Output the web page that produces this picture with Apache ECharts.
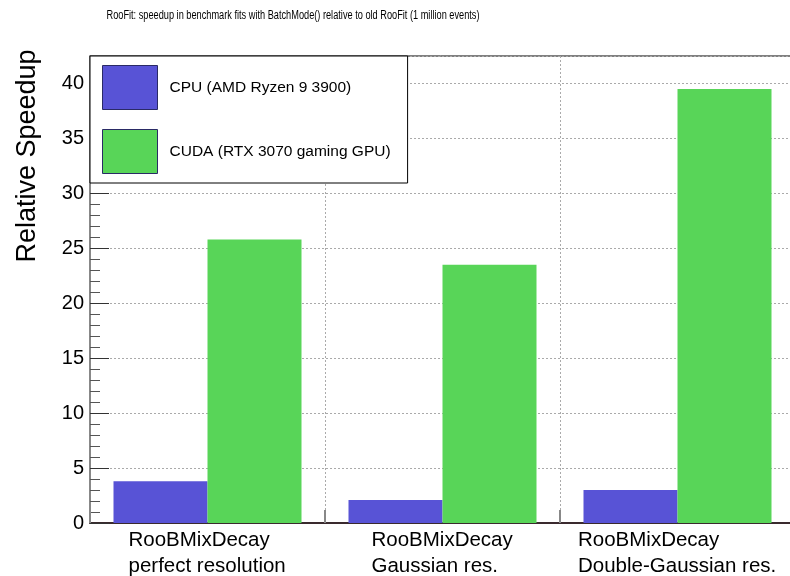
<!DOCTYPE html>
<html>
<head>
<meta charset="utf-8">
<script src="https://cdn.jsdelivr.net/npm/echarts@6/dist/echarts.min.js"></script>
<style>
  html, body { margin: 0; padding: 0; background: #fff; }
  #chart { width: 790px; height: 576px; }
</style>
</head>
<body>
<div id="chart"></div>
<script>
// data
const categories = [
  'RooBMixDecay\nperfect resolution',
  'RooBMixDecay\nGaussian res.',
  'RooBMixDecay\nDouble-Gaussian res.'
];
const cpuSpeedup = [3.8, 2.1, 3.0];
const cudaSpeedup = [25.8, 23.5, 39.5];
const seriesNames = ['CPU (AMD Ryzen 9 3900)', 'CUDA (RTX 3070 gaming GPU)'];
const titleText = 'RooFit: speedup in benchmark fits with BatchMode() relative to old RooFit (1 million events)';
const yTitle = 'Relative Speedup';

const FONT = '"Liberation Sans", Arial, Helvetica, sans-serif';
const LABEL_SIZE = 20.5;

// width of the longest line of each label, so lines are left aligned inside a centred block
const ctx = document.createElement('canvas').getContext('2d');
ctx.font = LABEL_SIZE + 'px ' + FONT;
const rich = {};
categories.forEach((c, i) => {
  const w = Math.max(...c.split('\n').map(s => ctx.measureText(s).width));
  rich['c' + i] = { width: Math.ceil(w), align: 'left', fontSize: LABEL_SIZE, lineHeight: 26, color: '#000', fontFamily: FONT };
});

// the title is set in a condensed face: squeeze it to the reference width
ctx.font = '12.5px ' + FONT;
const titleScale = 373 / ctx.measureText(titleText).width;

const chart = echarts.init(document.getElementById('chart'));
chart.setOption({
  animation: false,
  // the frame runs past the right edge of the picture
  grid: {
    left: 90, top: 56, width: 705, bottom: 53,
    outerBoundsMode: 'none',
    show: true, borderColor: '#000', borderWidth: 1, backgroundColor: 'transparent'
  },
  legend: {
    orient: 'vertical',
    left: 90, top: 56,
    itemWidth: 55, itemHeight: 44, itemGap: 19,
    padding: [9, 17, 9, 12],
    borderColor: '#000', borderWidth: 1, backgroundColor: '#fff',
    icon: 'rect',
    itemStyle: { borderColor: '#2a2a66', borderWidth: 1 },
    textStyle: { fontSize: 15.5, color: '#000', fontFamily: FONT, padding: [3, 0, 0, 7] },
    data: seriesNames
  },
  xAxis: {
    type: 'category',
    data: categories,
    axisLine: { lineStyle: { color: '#3a2a2e', width: 2 } },
    axisTick: { show: true, inside: true, length: 13, lineStyle: { color: '#888', width: 2 } },
    splitLine: { show: true, lineStyle: { color: '#aaa', type: [2, 2], width: 1 } },
    axisLabel: {
      margin: 4,
      interval: 0,
      formatter: (v, i) => v.split('\n').map(s => '{c' + i + '|' + s + '}').join('\n'),
      rich: rich
    }
  },
  yAxis: {
    type: 'value',
    min: 0, max: 42.5, interval: 5,
    axisLine: { show: true, lineStyle: { color: '#888', width: 2 } },
    axisTick: { show: true, inside: true, length: 19, lineStyle: { color: '#333', width: 1 } },
    minorTick: { show: true, splitNumber: 5, length: 10, lineStyle: { color: '#555', width: 1 } },
    splitLine: { show: true, lineStyle: { color: '#aaa', type: [2, 2], width: 1 } },
    axisLabel: { fontSize: 20, color: '#000', fontFamily: FONT, margin: 6, showMaxLabel: false }
  },
  graphic: [
    {
      type: 'text',
      x: 293, y: 16,
      scaleX: titleScale,
      style: { text: titleText, font: '12.5px ' + FONT, fill: '#000', align: 'center', verticalAlign: 'middle' }
    },
    {
      type: 'text',
      x: 28, y: 156,
      rotation: Math.PI / 2,
      style: { text: yTitle, font: '27px ' + FONT, fill: '#000', align: 'center', verticalAlign: 'middle' }
    }
  ],
  series: [
    {
      name: seriesNames[0], type: 'bar', data: cpuSpeedup,
      barGap: '0%', barCategoryGap: '20%',
      itemStyle: { color: '#5853d6' }
    },
    {
      name: seriesNames[1], type: 'bar', data: cudaSpeedup,
      barGap: '0%', barCategoryGap: '20%',
      itemStyle: { color: '#58d558' }
    }
  ]
});
</script>
</body>
</html>
